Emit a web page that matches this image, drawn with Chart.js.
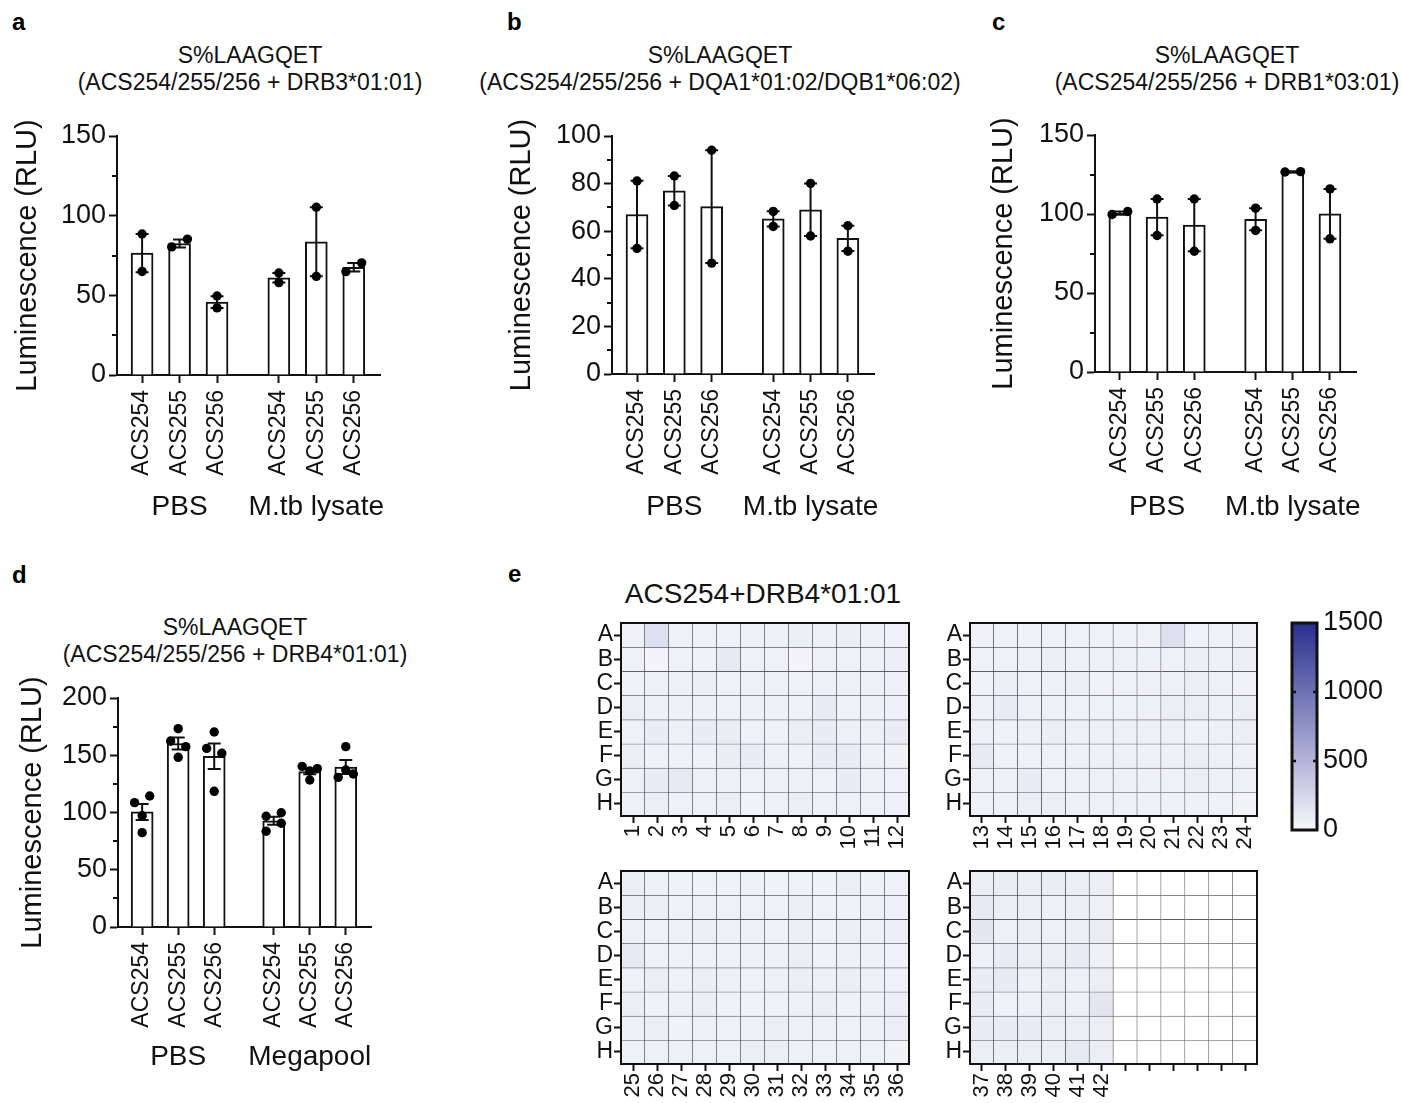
<!DOCTYPE html>
<html><head><meta charset="utf-8">
<script src="https://cdn.jsdelivr.net/npm/chart.js@4/dist/chart.umd.min.js"></script>
<style>
html,body{margin:0;padding:0;background:#fff;}
body{width:1402px;height:1103px;position:relative;overflow:hidden;font-family:"Liberation Sans",Arial,Helvetica,sans-serif;color:#111;}
.plbl{position:absolute;font-weight:bold;font-size:24px;line-height:24px;color:#000;}
.ttl{position:absolute;text-align:center;font-size:23px;line-height:27px;white-space:nowrap;transform:translateX(-50%);}
.httl{position:absolute;font-size:28px;line-height:32px;white-space:nowrap;transform:translateX(-50%);}
canvas{position:absolute;}
</style></head><body>
<div class="plbl" style="left:12px;top:10px">a</div>
<div class="plbl" style="left:507px;top:10px">b</div>
<div class="plbl" style="left:992px;top:10px">c</div>
<div class="plbl" style="left:12px;top:563px">d</div>
<div class="plbl" style="left:508px;top:562px">e</div>
<div class="ttl" style="left:250px;top:42px">S%LAAGQET<br>(ACS254/255/256 + DRB3*01:01)</div>
<div class="ttl" style="left:720px;top:42px">S%LAAGQET<br>(ACS254/255/256 + DQA1*01:02/DQB1*06:02)</div>
<div class="ttl" style="left:1227px;top:42px">S%LAAGQET<br>(ACS254/255/256 + DRB1*03:01)</div>
<div class="ttl" style="left:235px;top:614px">S%LAAGQET<br>(ACS254/255/256 + DRB4*01:01)</div>
<div class="httl" style="left:763px;top:578px">ACS254+DRB4*01:01</div>
<script>
Chart.defaults.font.family = '"Liberation Sans", Arial, Helvetica, sans-serif';
Chart.defaults.color = '#111';
const FAMILY = '"Liberation Sans", Arial, Helvetica, sans-serif';

// ---------- data ----------
const categories = ['ACS254', 'ACS255', 'ACS256'];
const groupsMtb = ['PBS', 'M.tb lysate'];
const groupsMega = ['PBS', 'Megapool'];

// panel a (DRB3*01:01)
const aMean = [76.5, 82.5, 45.8, 61, 83.6, 67.6];
const aSem = [12, 2.5, 3.7, 3, 21.7, 2.7];
const aPoints = [[88.5, 65], [80.4, 85.3], [49.6, 42.1], [64, 58], [105.3, 61.9], [64.9, 70.4]];
const aJitter = [[0, 0], [-1, 1], [0, 0], [0, 0], [0, 0], [-1, 1]];

// panel b (DQA1*01:02/DQB1*06:02)
const bMean = [67, 77, 70.3, 65.2, 69, 57];
const bSem = [14.2, 6.2, 23.7, 3.2, 11, 5.3];
const bPoints = [[81.1, 52.8], [83.2, 70.8], [94, 46.6], [68.3, 62], [80.1, 58], [62.3, 51.6]];
const bJitter = [[0, 0], [0, 0], [0, 0], [0, 0], [0, 0], [0, 0]];

// panel c (DRB1*03:01)
const cMean = [100.6, 98, 93, 96.7, 126.7, 100.1];
const cSem = [1, 11.5, 16.5, 7, 0.3, 15.8];
const cPoints = [[99.7, 101.6], [109.5, 86.4], [109.5, 76.4], [103.7, 89.6], [126.6, 126.8], [115.9, 84.3]];
const cJitter = [[-1, 1], [0, 0], [0, 0], [0, 0], [-1, 1], [0, 0]];

// panel d (DRB4*01:01)
const dMean = [100.5, 160.3, 149.1, 92.7, 135.8, 139.7];
const dSem = [7, 5.3, 11.2, 3.5, 2.5, 6.1];
const dPoints = [[108.6, 114.4, 97.2, 82.4], [173.2, 162.4, 157.5, 148.2], [170.3, 156, 151.7, 118.5],
                 [96.7, 99.8, 90.6, 83.6], [140.3, 138.3, 136.2, 128.4], [157.5, 137.1, 130.7, 133.6]];
const dJitter = [[-1, 1, 0, 0], [0, -1, 1, 0], [0, -1, 1, 0], [-1, 1, 1, -1], [-1, 1, 0, 0], [0, 0, -1, 1]];

// panel e heatmaps (rows A-H)
const rowLabels = ['A', 'B', 'C', 'D', 'E', 'F', 'G', 'H'];
const plate1Cols = ['1','2','3','4','5','6','7','8','9','10','11','12'];
const plate2Cols = ['13','14','15','16','17','18','19','20','21','22','23','24'];
const plate3Cols = ['25','26','27','28','29','30','31','32','33','34','35','36'];
const plate4Cols = ['37','38','39','40','41','42','','','','','',''];
const plate1 = [
  [60,180,60,60,60,70,70,80,70,80,70,60],
  [60,40,60,50,110,60,60,40,70,60,70,80],
  [50,70,70,80,60,70,70,60,70,70,70,70],
  [80,70,70,70,60,70,70,60,100,60,70,70],
  [60,100,70,100,90,60,60,80,100,70,70,100],
  [80,60,60,60,90,100,70,60,100,100,70,50],
  [70,100,120,70,70,60,70,70,60,100,70,60],
  [70,80,60,70,80,50,70,80,70,70,60,70]
];
const plate2 = [
  [60,60,60,60,60,60,60,60,180,60,60,70],
  [60,60,70,80,70,70,70,70,60,80,70,80],
  [50,80,60,70,80,50,60,70,70,80,70,50],
  [70,100,70,70,60,60,60,70,80,80,70,80],
  [70,60,70,80,70,70,70,70,70,50,70,80],
  [110,60,60,60,70,70,70,70,70,80,70,70],
  [70,70,100,60,70,70,70,70,60,80,70,70],
  [60,70,80,80,70,70,70,70,70,70,60,50]
];
const plate3 = [
  [80,70,60,50,50,70,50,60,50,80,60,60],
  [80,80,60,70,60,60,60,80,60,50,70,70],
  [70,60,70,80,70,70,60,80,60,80,70,80],
  [110,60,60,60,60,70,70,80,50,70,70,60],
  [60,80,60,80,70,60,70,80,70,80,70,60],
  [80,60,70,80,60,50,60,70,80,60,70,80],
  [70,80,50,70,60,70,80,70,70,60,70,80],
  [60,70,70,70,60,80,80,70,60,70,60,50]
];
const plate4 = [
  [80,90,80,90,80,80,null,null,null,null,null,null],
  [110,80,80,70,80,70,null,null,null,null,null,null],
  [130,70,80,70,80,90,null,null,null,null,null,null],
  [70,100,80,80,100,70,null,null,null,null,null,null],
  [100,110,70,80,70,80,null,null,null,null,null,null],
  [100,60,70,80,70,140,null,null,null,null,null,null],
  [100,100,100,80,80,80,null,null,null,null,null,null],
  [80,80,80,80,120,80,null,null,null,null,null,null]
];
const colorTicks = [0, 500, 1000, 1500];

// ---------- styling helpers ----------
const groupStep = 3.65;
const jitterStep = 0.21;
const lowColor = [248, 248, 252];
const highColor = [42, 46, 142];
const colorMax = 1500;
function rgb(c) { return 'rgb(' + c.map(Math.round).join(',') + ')'; }
function heatColor(v) {
  if (v === null || v === undefined) return '#ffffff';
  const t = Math.max(0, Math.min(1, v / colorMax));
  return rgb(lowColor.map((l, i) => l + (highColor[i] - l) * t));
}
function addCanvas(r) {
  const cv = document.createElement('canvas');
  cv.width = r.w; cv.height = r.h;
  cv.style.left = r.l + 'px'; cv.style.top = r.t + 'px';
  cv.style.width = r.w + 'px'; cv.style.height = r.h + 'px';
  document.body.appendChild(cv);
  return cv;
}

// ---------- bar panels ----------
function makeBarChart(p) {
  const cv = addCanvas(p.canvas);
  const positions = [];
  p.groups.forEach((g, gi) => categories.forEach((c, ci) => positions.push(gi * groupStep + ci)));
  const tickLabels = positions.map((_, i) => categories[i % categories.length]);
  const barData = p.mean.map((m, i) => ({x: positions[i], y: m}));
  const dotData = [];
  p.pts.forEach((arr, i) => arr.forEach((v, k) => dotData.push({x: positions[i] + p.jit[i][k] * jitterStep, y: v})));
  const yW = p.area.l - p.canvas.l;
  const xH = p.canvas.t + p.canvas.h - p.area.b;

  const errorPlugin = {
    id: 'errorBars',
    afterDatasetDraw(chart, args) {
      if (args.index !== 0) return;
      const ctx = chart.ctx, xs = chart.scales.x, ys = chart.scales.y;
      ctx.save();
      ctx.strokeStyle = '#111'; ctx.lineWidth = 2; ctx.lineCap = 'butt';
      p.mean.forEach((m, i) => {
        const x = xs.getPixelForValue(positions[i]);
        const yt = ys.getPixelForValue(m + p.sem[i]);
        const yb = ys.getPixelForValue(m - p.sem[i]);
        const cap = 6.5;
        ctx.beginPath();
        ctx.moveTo(x, yt); ctx.lineTo(x, yb);
        ctx.moveTo(x - cap, yt); ctx.lineTo(x + cap, yt);
        ctx.moveTo(x - cap, yb); ctx.lineTo(x + cap, yb);
        ctx.stroke();
      });
      ctx.restore();
    }
  };
  const extrasPlugin = {
    id: 'extras',
    afterDraw(chart) {
      const ctx = chart.ctx, xs = chart.scales.x, ys = chart.scales.y;
      ctx.save();
      ctx.strokeStyle = '#111'; ctx.lineWidth = 2;
      p.minor.forEach(v => {
        const y = Math.round(ys.getPixelForValue(v));
        ctx.beginPath(); ctx.moveTo(chart.chartArea.left - 5, y); ctx.lineTo(chart.chartArea.left, y); ctx.stroke();
      });
      ctx.fillStyle = '#111';
      ctx.font = '28px ' + FAMILY;
      ctx.textAlign = 'center'; ctx.textBaseline = 'middle';
      p.groups.forEach((g, gi) => {
        ctx.fillText(g, xs.getPixelForValue(gi * groupStep + 1), p.groupY - p.canvas.t);
      });
      ctx.restore();
    }
  };

  new Chart(cv, {
    type: 'bar',
    data: {datasets: [
      {type: 'bar', data: barData, backgroundColor: '#ffffff', borderColor: '#111', borderWidth: 2, barThickness: 22, order: 2},
      {type: 'scatter', data: dotData, backgroundColor: '#000', borderWidth: 0, pointRadius: 4.7, order: 1}
    ]},
    options: {
      responsive: false, animation: false, devicePixelRatio: 1,
      layout: {padding: {left: 0, top: p.area.t - p.canvas.t, right: p.canvas.l + p.canvas.w - p.area.r, bottom: 0}},
      plugins: {legend: {display: false}, tooltip: {enabled: false}},
      scales: {
        x: {
          type: 'linear', min: -0.67, max: 6.35, offset: false,
          afterBuildTicks: s => { s.ticks = positions.map(v => ({value: v})); },
          afterFit: s => { s.height = xH; },
          ticks: {autoSkip: false, minRotation: 90, maxRotation: 90, padding: 7, font: {size: 23}, color: '#111',
                  callback: (v, i) => tickLabels[i]},
          grid: {drawOnChartArea: false, drawTicks: true, tickLength: 8, tickWidth: 2, tickColor: '#111', offset: false},
          border: {display: true, color: '#111', width: 2}
        },
        y: {
          type: 'linear', min: 0, max: p.ymax,
          ticks: {stepSize: p.step, padding: 3, font: {size: 27}, color: '#111'},
          afterFit: s => { s.width = yW; },
          grid: {drawOnChartArea: false, drawTicks: true, tickLength: 8, tickWidth: 2, tickColor: '#111'},
          border: {display: true, color: '#111', width: 2},
          title: {display: true, text: 'Luminescence (RLU)', font: {size: 29}, color: '#111',
                  padding: {top: p.titleCX - p.canvas.l - 17.4, bottom: 0}}
        }
      }
    },
    plugins: [errorPlugin, extrasPlugin]
  });
}

makeBarChart({mean: aMean, sem: aSem, pts: aPoints, jit: aJitter, groups: groupsMtb, ymax: 150, step: 50, minor: [25, 75, 125],
  canvas: {l: 0, t: 100, w: 470, h: 430}, area: {l: 117, t: 136, r: 380, b: 375}, groupY: 507, titleCX: 28});
makeBarChart({mean: bMean, sem: bSem, pts: bPoints, jit: bJitter, groups: groupsMtb, ymax: 100, step: 20, minor: [10, 30, 50, 70, 90],
  canvas: {l: 480, t: 100, w: 460, h: 430}, area: {l: 612, t: 136, r: 874, b: 374}, groupY: 507, titleCX: 522});
makeBarChart({mean: cMean, sem: cSem, pts: cPoints, jit: cJitter, groups: groupsMtb, ymax: 150, step: 50, minor: [25, 75, 125],
  canvas: {l: 960, t: 100, w: 442, h: 430}, area: {l: 1095, t: 135, r: 1356, b: 372}, groupY: 507, titleCX: 1004});
makeBarChart({mean: dMean, sem: dSem, pts: dPoints, jit: dJitter, groups: groupsMega, ymax: 200, step: 50, minor: [25, 75, 125, 175],
  canvas: {l: 0, t: 660, w: 470, h: 443}, area: {l: 118, t: 698, r: 371, b: 927}, groupY: 1057, titleCX: 33});

// ---------- heatmaps ----------
const framePlugin = {
  id: 'frame',
  afterDatasetsDraw(chart) {
    const a = chart.chartArea, ctx = chart.ctx;
    ctx.save(); ctx.strokeStyle = '#111'; ctx.lineWidth = 2;
    ctx.strokeRect(a.left, a.top, a.right - a.left, a.bottom - a.top);
    ctx.restore();
  }
};
function makeHeat(h) {
  const cv = addCanvas(h.canvas);
  const yW = h.area.l - h.canvas.l;
  const xH = h.canvas.t + h.canvas.h - h.area.b;
  const datasets = rowLabels.map((r, ri) => ({
    label: r,
    data: h.cols.map(() => [ri, ri + 1]),
    backgroundColor: h.values[ri].map(heatColor),
    borderColor: '#4a4a4a',
    borderWidth: {top: 1, right: 1, bottom: 0, left: 0},
    borderSkipped: false, grouped: false, barPercentage: 1, categoryPercentage: 1
  }));
  new Chart(cv, {
    type: 'bar',
    data: {labels: h.cols, datasets},
    options: {
      responsive: false, animation: false, devicePixelRatio: 1,
      layout: {padding: {left: 0, top: h.area.t - h.canvas.t, right: h.canvas.l + h.canvas.w - h.area.r, bottom: 0}},
      plugins: {legend: {display: false}, tooltip: {enabled: false}},
      scales: {
        x: {
          type: 'category', offset: true,
          afterFit: s => { s.height = xH; },
          ticks: {autoSkip: false, minRotation: 90, maxRotation: 90, padding: 2, font: {size: 22}, color: '#111'},
          grid: {offset: false, drawOnChartArea: false, drawTicks: true, tickLength: 7, tickWidth: 2, tickColor: '#111'},
          border: {display: false}
        },
        y: {
          type: 'linear', min: 0, max: 8, reverse: true,
          afterBuildTicks: s => { s.ticks = rowLabels.map((_, i) => ({value: i + 0.5})); },
          afterFit: s => { s.width = yW; },
          ticks: {autoSkip: false, padding: 1, font: {size: 23}, color: '#111', callback: (v, i) => rowLabels[i]},
          grid: {drawOnChartArea: false, drawTicks: true, tickLength: 7, tickWidth: 2, tickColor: '#111'},
          border: {display: false}
        }
      }
    },
    plugins: [framePlugin]
  });
}
makeHeat({values: plate1, cols: plate1Cols, canvas: {l: 580, t: 600, w: 350, h: 270}, area: {l: 621, t: 623, r: 909, b: 816}});
makeHeat({values: plate2, cols: plate2Cols, canvas: {l: 930, t: 600, w: 350, h: 270}, area: {l: 970, t: 623, r: 1257, b: 816}});
makeHeat({values: plate3, cols: plate3Cols, canvas: {l: 580, t: 850, w: 350, h: 253}, area: {l: 621, t: 871, r: 909, b: 1064}});
makeHeat({values: plate4, cols: plate4Cols, canvas: {l: 930, t: 850, w: 350, h: 253}, area: {l: 970, t: 871, r: 1257, b: 1064}});

// ---------- colour bar ----------
(function () {
  const cvr = {l: 1280, t: 600, w: 122, h: 260};
  const area = {l: 1292, t: 623, r: 1317, b: 830};
  const cv = addCanvas(cvr);
  const cbPlugin = {
    id: 'cbFrame',
    afterDatasetsDraw(chart) {
      const a = chart.chartArea, ctx = chart.ctx, ys = chart.scales.y;
      ctx.save(); ctx.strokeStyle = '#111'; ctx.lineWidth = 3;
      ctx.strokeRect(a.left, a.top, a.right - a.left, a.bottom - a.top);
      ctx.lineWidth = 2.5;
      colorTicks.slice(1, -1).forEach(v => {
        const y = ys.getPixelForValue(v);
        ctx.beginPath();
        ctx.moveTo(a.left - 1, y); ctx.lineTo(a.left + 4, y);
        ctx.moveTo(a.right - 4, y); ctx.lineTo(a.right + 1, y);
        ctx.stroke();
      });
      ctx.restore();
    }
  };
  new Chart(cv, {
    type: 'bar',
    data: {labels: [''], datasets: [{
      data: [[0, colorMax]],
      backgroundColor: (c) => {
        const a = c.chart.chartArea;
        if (!a) return rgb(lowColor);
        const g = c.chart.ctx.createLinearGradient(0, a.bottom, 0, a.top);
        g.addColorStop(0, rgb(lowColor)); g.addColorStop(1, rgb(highColor));
        return g;
      },
      borderWidth: 0, barPercentage: 1, categoryPercentage: 1
    }]},
    options: {
      responsive: false, animation: false, devicePixelRatio: 1,
      layout: {padding: {left: area.l - cvr.l, top: area.t - cvr.t, right: 0, bottom: cvr.t + cvr.h - area.b}},
      plugins: {legend: {display: false}, tooltip: {enabled: false}},
      scales: {
        x: {display: false},
        y: {
          position: 'right', min: 0, max: colorMax,
          afterBuildTicks: s => { s.ticks = colorTicks.map(v => ({value: v})); },
          afterFit: s => { s.width = cvr.l + cvr.w - area.r; },
          ticks: {padding: 6, font: {size: 27}, color: '#111', callback: v => String(v)},
          grid: {display: false, drawTicks: false},
          border: {display: false}
        }
      }
    },
    plugins: [cbPlugin]
  });
})();
</script>
</body></html>
